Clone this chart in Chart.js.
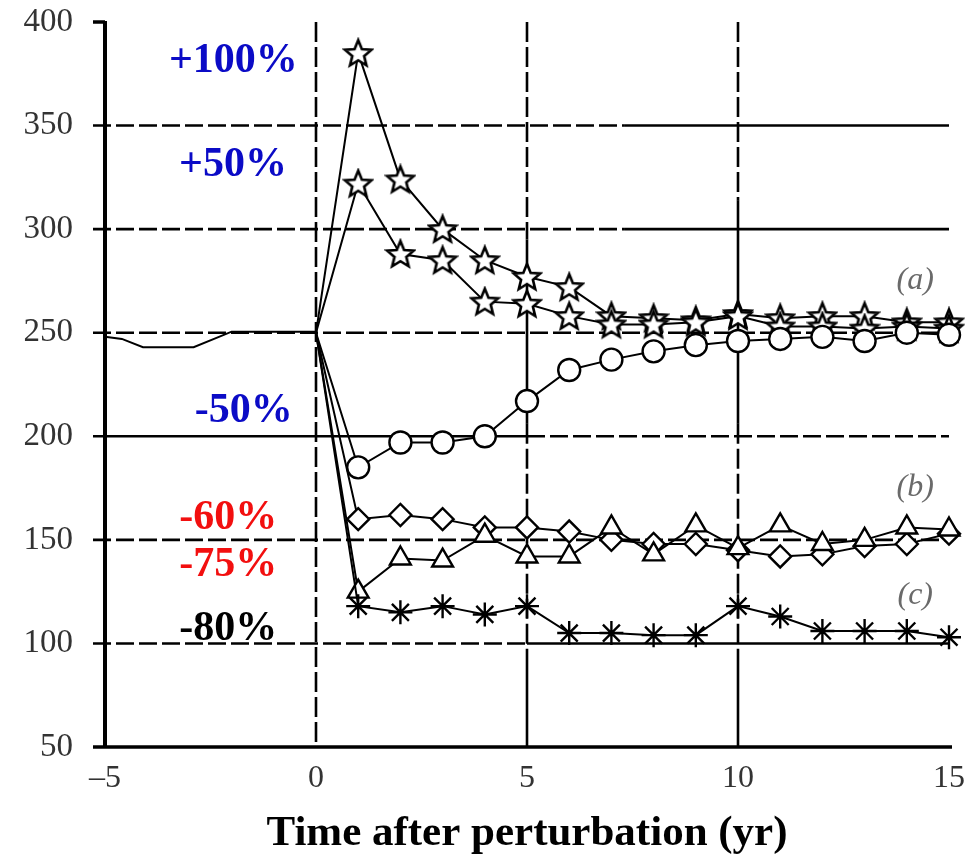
<!DOCTYPE html>
<html>
<head>
<meta charset="utf-8">
<script src="https://cdn.jsdelivr.net/npm/chart.js@4.4.1/dist/chart.umd.min.js"></script>
<style>
  html, body { margin: 0; padding: 0; background: #ffffff; }
  #wrap { width: 967px; height: 860px; position: relative; }
</style>
</head>
<body>
<div id="wrap"><canvas id="c" width="967" height="860"></canvas></div>
<script>
// ---------------- DATA ----------------
const baseYears  = [-5, -4.6, -4.1, -2.9, -2.3, -2.0, 0];
const baseValues = [248, 247, 243, 243, 248, 250.5, 250.5];

const years    = [0, 1, 2, 3, 4, 5, 6, 7, 8, 9, 10, 11, 12, 13, 14, 15];
const plus100  = [250, 385, 324, 300, 285, 277, 272, 258, 257, 256, 259, 257, 258, 258, 255, 255];
const plus50   = [250, 322, 288, 285, 265, 264, 258, 254, 254, 255, 258, 253, 253, 252, 253, 252];
const minus50  = [250, 185, 197, 197, 200, 217, 232, 237, 241, 244, 246, 247, 248, 246, 250, 249];
const minus60  = [250, 160, 162, 160, 156, 156, 154, 150, 148, 148, 145, 142, 143, 147, 148, 153];
const minus75  = [250, 125, 141, 140, 152, 142, 142, 156, 143, 157, 146, 157, 148, 150, 156, 155];
const minus80  = [250, 118, 115, 118, 114, 118, 105, 105, 104, 104, 118, 113, 106, 106, 106, 103];

const yTickValues = [50, 100, 150, 200, 250, 300, 350, 400];
const xTickLabels = { "-5": "\u20135", "0": "0", "5": "5", "10": "10", "15": "15" };
const xTitle = "Time after perturbation (yr)";

const seriesLabels = ["+100%", "+50%", "-50%", "-60%", "-75%", "-80%"];
const annotTexts  = ["+100%", "+50%", "-50%", "-60%", "-75%", "-80%"];
const annotX      = [-0.43, -0.69, -0.55, -0.92, -0.92, -0.92];
const annotY      = [381, 331, 212, 160.5, 138, 107];
const panelTexts  = ["(a)", "(b)", "(c)"];
const panelX      = [14.2, 14.2, 14.2];
const panelY      = [275, 175, 123];

// ---------------- STYLES ----------------
const BLUE = '#0b0bc6', RED = '#f20f0f', BLACK = '#000000';
const annotColors = [BLUE, BLUE, BLUE, RED, RED, BLACK];

// grid segments: [from, to, dashed]
const hGrid = [
  { value: 350, segs: [[-5, 7.3, true], [7.3, 15, false]] },
  { value: 300, segs: [[-5, 7.3, true], [7.3, 15, false]] },
  { value: 250, segs: [[-5, 15, true]] },
  { value: 200, segs: [[-5, 5, false], [5, 15, true]] },
  { value: 150, segs: [[-5, 15, true]] },
  { value: 100, segs: [[-5, 5, true], [5, 15, false]] }
];
const vGrid = [
  { value: 0,  segs: [[50, 400, true]] },
  { value: 5,  segs: [[295, 400, true], [206, 295, false], [93, 206, true], [50, 93, false]] },
  { value: 10, segs: [[314, 400, true], [206, 314, false], [93, 206, true], [50, 93, false]] }
];

function makeStar(fillColor) {
  const s = 32, c = document.createElement('canvas');
  c.width = s; c.height = s;
  const g = c.getContext('2d');
  const cx = s / 2, cy = s / 2 + 1, R = 14, r = 6.2;
  g.beginPath();
  for (let i = 0; i < 10; i++) {
    const rad = (i % 2 === 0) ? R : r;
    const a = -Math.PI / 2 + i * Math.PI / 5;
    const px = cx + rad * Math.cos(a), py = cy + rad * Math.sin(a);
    if (i === 0) g.moveTo(px, py); else g.lineTo(px, py);
  }
  g.closePath();
  g.fillStyle = fillColor; g.fill();
  g.lineWidth = 2.6; g.strokeStyle = '#000'; g.lineJoin = 'miter'; g.stroke();
  return c;
}
const starHollow = makeStar('#ffffff');
const starHalf = makeStar('#ffffff');

function toXY(xs, ys) { return xs.map((x, i) => ({ x: x, y: ys[i] })); }

function series(label, values, style, radius) {
  return {
    label: label,
    data: toXY(years, values),
    borderColor: BLACK,
    borderWidth: 2,
    backgroundColor: '#ffffff',
    pointStyle: style,
    pointRadius: (ctx) => ctx.dataIndex === 0 ? 0 : radius,
    pointBorderWidth: 2.4,
    pointBorderColor: BLACK,
    pointBackgroundColor: '#ffffff',
    tension: 0,
    clip: false,
    fill: false
  };
}

const datasets = [
  {
    label: 'pre',
    data: toXY(baseYears, baseValues),
    borderColor: BLACK, borderWidth: 2, pointRadius: 0, tension: 0, clip: false, fill: false
  },
  series(seriesLabels[5], minus80, 'star', 12),
  series(seriesLabels[4], minus75, 'triangle', 12),
  series(seriesLabels[3], minus60, 'rectRot', 11),
  series(seriesLabels[2], minus50, 'circle', 11),
  series(seriesLabels[1], plus50, starHalf, 14),
  series(seriesLabels[0], plus100, starHollow, 14)
];

const gridPlugin = {
  id: 'customGrid',
  beforeDatasetsDraw(chart) {
    const { ctx, scales: { x, y } } = chart;
    ctx.save();
    ctx.strokeStyle = '#000';
    ctx.lineCap = 'butt';
    ctx.lineWidth = 2.6;
    hGrid.forEach(g => {
      const py = y.getPixelForValue(g.value);
      g.segs.forEach(([a, b, dashed]) => {
        ctx.setLineDash(dashed ? [18, 5] : []);
        let x0 = x.getPixelForValue(a);
        if (a === x.min) x0 -= 12;
        ctx.beginPath(); ctx.moveTo(x0, py); ctx.lineTo(x.getPixelForValue(b), py); ctx.stroke();
      });
    });
    vGrid.forEach(g => {
      const px = x.getPixelForValue(g.value);
      g.segs.forEach(([a, b, dashed]) => {
        ctx.setLineDash(dashed ? [20, 5] : []);
        ctx.beginPath(); ctx.moveTo(px, y.getPixelForValue(b)); ctx.lineTo(px, y.getPixelForValue(a)); ctx.stroke();
      });
    });
    ctx.setLineDash([]);
    // axes
    ctx.lineWidth = 4;
    ctx.beginPath(); ctx.moveTo(x.left, y.top - 1); ctx.lineTo(x.left, y.bottom + 1); ctx.stroke();
    ctx.lineWidth = 3.5;
    ctx.beginPath(); ctx.moveTo(x.left - 12, y.top); ctx.lineTo(x.left, y.top); ctx.stroke();
    ctx.beginPath(); ctx.moveTo(x.left - 12, y.bottom); ctx.lineTo(x.right + 3, y.bottom); ctx.stroke();
    ctx.restore();
  },
  afterDatasetsDraw(chart) {
    const { ctx, scales: { x, y } } = chart;
    ctx.save();
    ctx.textAlign = 'right';
    ctx.textBaseline = 'middle';
    ctx.font = 'bold 42px "Liberation Serif", "Times New Roman", serif';
    annotTexts.forEach((t, i) => {
      ctx.fillStyle = annotColors[i];
      ctx.fillText(t, x.getPixelForValue(annotX[i]), y.getPixelForValue(annotY[i]));
    });
    ctx.textAlign = 'center';
    ctx.font = 'italic 32px "Liberation Serif", "Times New Roman", serif';
    ctx.fillStyle = '#6a6a6a';
    panelTexts.forEach((t, i) => {
      ctx.fillText(t, x.getPixelForValue(panelX[i]), y.getPixelForValue(panelY[i]));
    });
    ctx.restore();
  }
};

new Chart(document.getElementById('c'), {
  type: 'line',
  data: { datasets: datasets },
  plugins: [gridPlugin],
  options: {
    responsive: false,
    animation: false,
    events: [],
    layout: { padding: { left: 0, right: 18, top: 22, bottom: 0 } },
    plugins: { legend: { display: false }, tooltip: { enabled: false } },
    scales: {
      x: {
        type: 'linear', min: -5, max: 15,
        afterBuildTicks: (s) => { s.ticks = Object.keys(xTickLabels).map(v => ({ value: Number(v) })); },
        afterFit: (s) => { s.height = 113; s.paddingLeft = 0; s.paddingRight = 0; },
        grid: { display: false, drawTicks: false },
        border: { display: false },
        ticks: {
          padding: 12,
          color: '#333',
          font: { family: '"Liberation Serif", "Times New Roman", serif', size: 32 },
          maxRotation: 0,
          callback: (v) => xTickLabels[String(v)]
        },
        title: {
          display: true, text: xTitle, color: '#000',
          font: { family: '"Liberation Serif", "Times New Roman", serif', size: 43, weight: 'bold' },
          padding: { top: 0, bottom: 0 }
        }
      },
      y: {
        type: 'linear', min: 50, max: 400,
        afterBuildTicks: (s) => { s.ticks = yTickValues.map(v => ({ value: v })); },
        afterFit: (s) => { s.width = 105; s.paddingTop = 0; s.paddingBottom = 0; },
        grid: { display: false, drawTicks: false },
        border: { display: false },
        ticks: {
          padding: 32,
          color: '#333',
          font: { family: '"Liberation Serif", "Times New Roman", serif', size: 33 }
        }
      }
    }
  }
});
</script>
</body>
</html>
